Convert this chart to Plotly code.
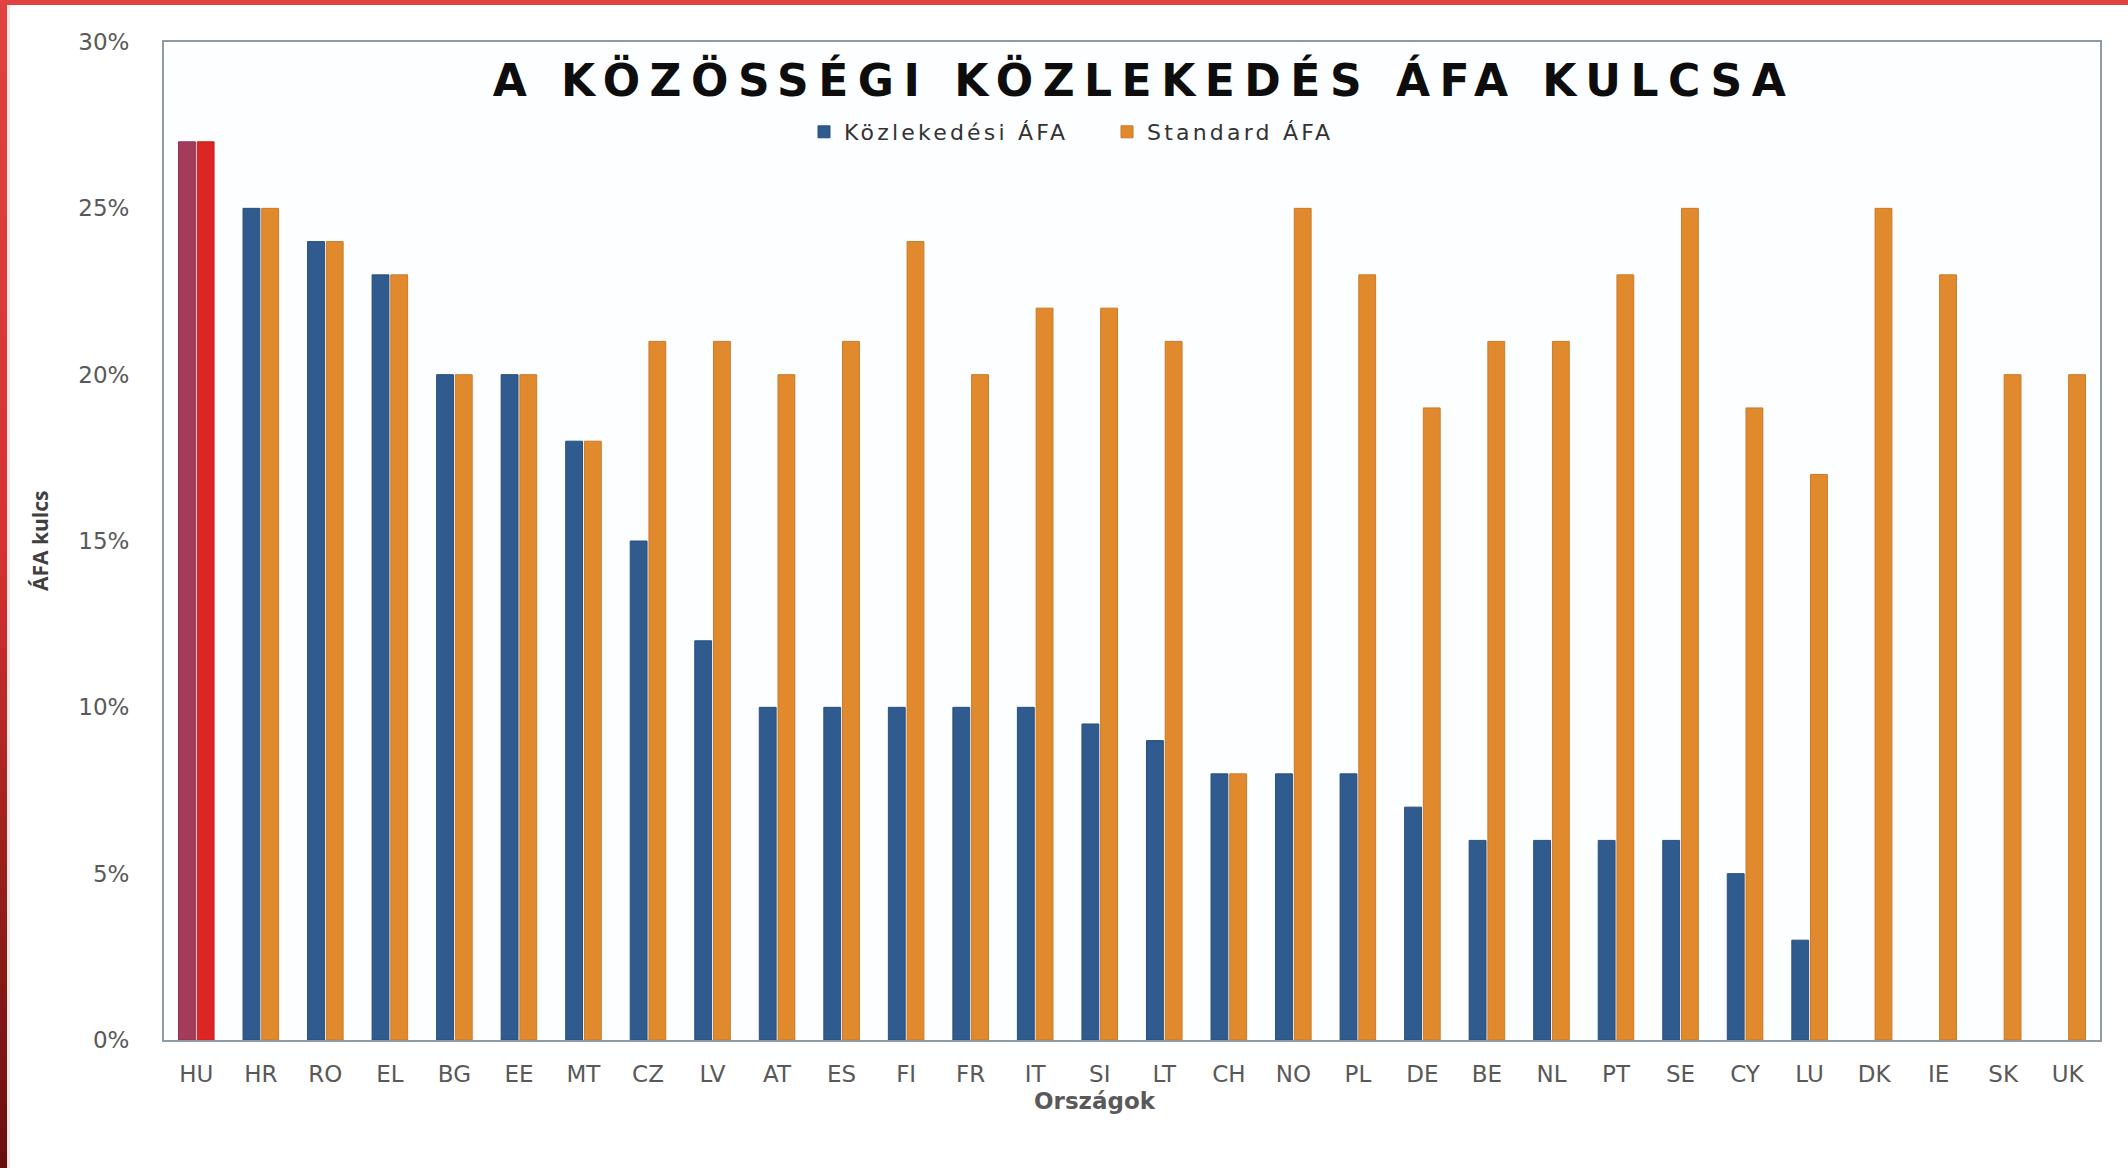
import plotly.graph_objects as go

# ---- data ----
countries = ["HU", "HR", "RO", "EL", "BG", "EE", "MT", "CZ", "LV", "AT",
             "ES", "FI", "FR", "IT", "SI", "LT", "CH", "NO", "PL", "DE",
             "BE", "NL", "PT", "SE", "CY", "LU", "DK", "IE", "SK", "UK"]
kozlekedesi_afa = [27, 25, 24, 23, 20, 20, 18, 15, 12, 10,
                   10, 10, 10, 10, 9.5, 9, 8, 8, 8, 7,
                   6, 6, 6, 6, 5, 3, None, None, None, None]
standard_afa = [27, 25, 24, 23, 20, 20, 18, 21, 21, 20,
                21, 24, 20, 22, 22, 21, 8, 25, 23, 19,
                21, 21, 23, 25, 19, 17, 25, 23, 20, 20]
y_tick_values = [0, 5, 10, 15, 20, 25, 30]
y_tick_labels = ["0%", "5%", "10%", "15%", "20%", "25%", "30%"]
highlight_country = "HU"

series_names = ["Közlekedési ÁFA", "Standard ÁFA"]
title_text = "A KÖZÖSSÉGI KÖZLEKEDÉS ÁFA KULCSA"
x_title = "Országok"
y_title = "ÁFA kulcs"

# ---- styling ----
W, H = 2128, 1168
ML, MR, MT, MB = 164, 28, 42, 128
PW, PH = W - ML - MR, H - MT - MB

BLUE, BLUE_LINE = "#2f5b8e", "#294f7c"
ORANGE, ORANGE_LINE = "#e08a2d", "#c97a28"
HU_BLUE, HU_ORANGE = "#a33b5b", "#dd2624"

def px_x(p):
    return (p - ML) / PW

def px_y(p):
    return (H - MB - p) / PH

rest_idx = [i for i, c in enumerate(countries) if c != highlight_country]
hi_idx = [i for i, c in enumerate(countries) if c == highlight_country]

fig = go.Figure()
fig.add_trace(go.Bar(
    x=[countries[i] for i in rest_idx], y=[kozlekedesi_afa[i] for i in rest_idx],
    name='<span style="letter-spacing:3.2px">' + series_names[0] + '</span>',
    offsetgroup="k", marker=dict(color=BLUE, line=dict(color=BLUE_LINE, width=1))))
fig.add_trace(go.Bar(
    x=[countries[i] for i in rest_idx], y=[standard_afa[i] for i in rest_idx],
    name='<span style="letter-spacing:3.2px">' + series_names[1] + '</span>',
    offsetgroup="s", marker=dict(color=ORANGE, line=dict(color=ORANGE_LINE, width=1))))
fig.add_trace(go.Bar(
    x=[countries[i] for i in hi_idx], y=[kozlekedesi_afa[i] for i in hi_idx],
    name=series_names[0], showlegend=False,
    offsetgroup="k", marker=dict(color=HU_BLUE, line=dict(color="#8e3350", width=1))))
fig.add_trace(go.Bar(
    x=[countries[i] for i in hi_idx], y=[standard_afa[i] for i in hi_idx],
    name=series_names[1], showlegend=False,
    offsetgroup="s", marker=dict(color=HU_ORANGE, line=dict(color="#c42020", width=1))))

shapes = []
# top red band
shapes.append(dict(type="rect", xref="paper", yref="paper", layer="above",
                   x0=px_x(0), x1=px_x(W), y0=px_y(5), y1=px_y(0),
                   fillcolor="#e0433f", line=dict(width=0)))
# left red band with vertical gradient
stops = [(0, (224, 67, 63)), (550, (214, 50, 48)), (950, (140, 26, 24)), (1168, (104, 14, 14))]
def col_at(y):
    for (y0, c0), (y1, c1) in zip(stops[:-1], stops[1:]):
        if y0 <= y <= y1:
            t = (y - y0) / (y1 - y0)
            return "rgb(%d,%d,%d)" % tuple(round(a + (b - a) * t) for a, b in zip(c0, c1))
    return "rgb(%d,%d,%d)" % stops[-1][1]
seg = 24
for y in range(0, H, seg):
    shapes.append(dict(type="rect", xref="paper", yref="paper", layer="above",
                       x0=px_x(0), x1=px_x(7), y0=px_y(min(H, y + seg + 1)), y1=px_y(y),
                       fillcolor=col_at(y + seg / 2), line=dict(width=0)))
shapes.append(dict(type="rect", xref="paper", yref="paper", layer="above",
                   x0=px_x(7), x1=px_x(10), y0=px_y(H), y1=px_y(5),
                   fillcolor="#e9e9e9", line=dict(width=0)))

fig.update_layout(
    width=W, height=H,
    margin=dict(l=ML, r=MR, t=MT, b=MB, autoexpand=False),
    paper_bgcolor="white", plot_bgcolor="#fdfeff",
    barmode="group", bargap=0.42, bargroupgap=0.1,
    font=dict(family="DejaVu Sans", color="#595959"),
    title=dict(text='<span style="letter-spacing:9.5px">' + title_text + '</span>',
               x=px_x(1144), xref="paper", xanchor="center",
               y=1 - 81 / H, yref="container", yanchor="middle",
               font=dict(family="DejaVu Sans", size=44, color="#0d0d0d", weight="bold")),
    legend=dict(orientation="h", x=px_x(804), xanchor="left", y=px_y(132), yanchor="middle",
                font=dict(family="DejaVu Sans", size=22, color="#333333"),
                bgcolor="rgba(0,0,0,0)", itemwidth=30, traceorder="normal",
                entrywidth=258, entrywidthmode="pixels"),
    xaxis=dict(categoryorder="array", categoryarray=countries,
               showline=True, linecolor="#8d9ba6", linewidth=2, mirror=True,
               showgrid=False, ticks="", tickfont=dict(size=23, color="#595959"),
               ticklabelstandoff=12),
    yaxis=dict(range=[0, 30], tickmode="array", tickvals=y_tick_values, ticktext=y_tick_labels,
               showline=True, linecolor="#8d9ba6", linewidth=2, mirror=True,
               showgrid=False, zeroline=False, ticks="",
               tickfont=dict(size=23, color="#595959"), ticklabelstandoff=28),
    shapes=shapes,
    annotations=[
        dict(text=x_title, xref="paper", yref="paper", x=px_x(1095), y=px_y(1101),
             xanchor="center", yanchor="middle", showarrow=False,
             font=dict(family="DejaVu Sans", size=23, color="#595959", weight="bold")),
        dict(text=y_title, xref="paper", yref="paper", x=px_x(40), y=px_y(541),
             xanchor="center", yanchor="middle", showarrow=False, textangle=-90,
             font=dict(family="Open Sans", size=21, color="#404040", weight="bold")),
    ],
    hovermode=False,
)

fig.write_html("out.html", config={"displayModeBar": False},
               post_script="document.body.style.margin='0px';")
